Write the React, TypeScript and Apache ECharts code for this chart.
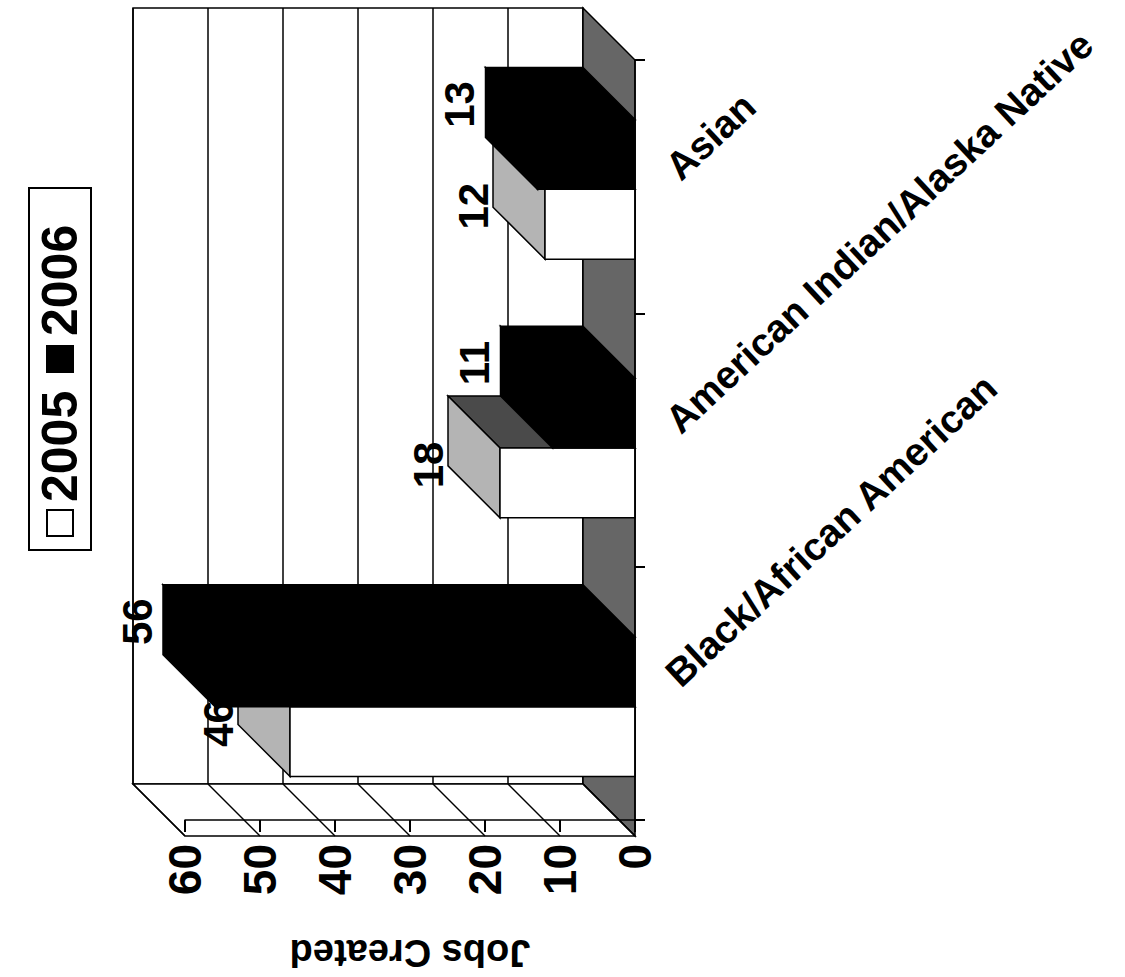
import React, { useEffect, useRef } from "react";
import * as echarts from "echarts";

const categories = ["Black/African American", "American Indian/Alaska Native", "Asian"];
const seriesNames = ["2005", "2006"];
const values2005 = [46, 18, 12];
const values2006 = [56, 11, 13];
const valueTicks = [0, 10, 20, 30, 40, 50, 60];
const axisTitle = "Jobs Created";

const FONT = "'Liberation Sans', Arial, Helvetica, sans-serif";
const DEPTH = 52;
const BACK = { left: 133, top: 8, width: 450, height: 776 };
const FRONT = { left: BACK.left + DEPTH, top: BACK.top + DEPTH, width: 450, height: 776 };
const VMAX = 60;
const BAR_FRAC = 0.27;

const add = (p: number[], d: number) => [p[0] + d, p[1] + d];

function wallsRender(params: any, api: any) {
  const c = (v: number, y: number) => api.coord([v, y]);
  const yTop = categories.length - 0.5;
  const yBot = -0.5;
  const children: any[] = [];
  const tl = c(VMAX, yTop);
  const br = c(0, yBot);
  children.push({
    type: "rect",
    shape: { x: tl[0], y: tl[1], width: br[0] - tl[0], height: br[1] - tl[1] },
    style: { fill: "#fff", stroke: "#000", lineWidth: 1.5 },
  });
  valueTicks.forEach((v) => {
    const a = c(v, yTop);
    const b = c(v, yBot);
    children.push({
      type: "line",
      shape: { x1: a[0], y1: a[1], x2: b[0], y2: b[1] },
      style: { stroke: "#000", lineWidth: 1.5 },
    });
  });
  const f1 = c(0, yTop);
  const f2 = c(0, yBot);
  children.push({
    type: "polygon",
    shape: { points: [f1, add(f1, DEPTH), add(f2, DEPTH), f2] },
    style: { fill: "#666666", stroke: "#000", lineWidth: 1.5 },
  });
  const s1 = c(VMAX, yBot);
  const s2 = c(0, yBot);
  children.push({
    type: "polygon",
    shape: { points: [s1, s2, add(s2, DEPTH), add(s1, DEPTH)] },
    style: { fill: "#fff", stroke: "#000", lineWidth: 1.5 },
  });
  valueTicks.forEach((v) => {
    const a = c(v, yBot);
    const b = add(a, DEPTH);
    children.push({
      type: "line",
      shape: { x1: a[0], y1: a[1], x2: b[0], y2: b[1] },
      style: { stroke: "#000", lineWidth: 1.5 },
    });
  });
  return { type: "group", children };
}

function makeBarRender(seriesIdx: number) {
  return function (params: any, api: any) {
    const v = api.value(0);
    const ci = api.value(1);
    const band = api.size([0, 1])[1];
    const w = band * BAR_FRAC;
    const center = api.coord([0, ci]);
    const x0 = center[0];
    const xv = api.coord([v, ci])[0];
    const yTop = seriesIdx === 0 ? center[1] : center[1] - w;
    const yBot = yTop + w;
    const d = DEPTH;
    const isWhite = seriesIdx === 0;
    const stroke = "#000";
    const lw = 1.5;
    const children: any[] = [
      {
        type: "polygon",
        shape: { points: [[xv, yTop], [x0, yTop], [x0 + d, yTop + d], [xv + d, yTop + d]] },
        style: { fill: isWhite ? "#4a4a4a" : "#000", stroke, lineWidth: lw },
      },
      {
        type: "polygon",
        shape: { points: [[xv, yTop], [xv + d, yTop + d], [xv + d, yBot + d], [xv, yBot]] },
        style: { fill: isWhite ? "#b4b4b4" : "#000", stroke, lineWidth: lw },
      },
      {
        type: "rect",
        shape: { x: xv + d, y: yTop + d, width: x0 - xv, height: w },
        style: { fill: isWhite ? "#fff" : "#000", stroke, lineWidth: lw },
      },
      {
        type: "text",
        x: isWhite ? xv - 20 : xv - 26,
        y: (yTop + yBot) / 2 + (isWhite ? 34 : 2),
        rotation: Math.PI / 2,
        style: {
          text: String(v),
          fontSize: 42,
          fontWeight: "bold",
          fontFamily: FONT,
          fill: "#000",
          align: "center",
          verticalAlign: "middle",
        },
      },
    ];
    return { type: "group", children };
  };
}

export default function App() {
  const ref = useRef<HTMLDivElement>(null);
  useEffect(() => {
    if (!ref.current) return;
    const chart = echarts.init(ref.current, undefined, { renderer: "svg" });
    const legendChildren: any[] = [
      { type: "rect", shape: { x: -180, y: -31, width: 362, height: 62 }, style: { fill: "#fff", stroke: "#000", lineWidth: 2 } },
      { type: "rect", shape: { x: -166, y: -13, width: 26, height: 26 }, style: { fill: "#fff", stroke: "#000", lineWidth: 2 } },
      { type: "text", x: -132, y: 0, style: { text: seriesNames[0], fontSize: 50, fontWeight: "bold", fontFamily: FONT, fill: "#000", align: "left", verticalAlign: "middle" } },
      { type: "rect", shape: { x: -2, y: -13, width: 26, height: 26 }, style: { fill: "#000", stroke: "#000", lineWidth: 2 } },
      { type: "text", x: 34, y: 0, style: { text: seriesNames[1], fontSize: 50, fontWeight: "bold", fontFamily: FONT, fill: "#000", align: "left", verticalAlign: "middle" } },
    ];
    chart.setOption({
      animation: false,
      backgroundColor: "#fff",
      grid: [
        { left: BACK.left, top: BACK.top, width: BACK.width, height: BACK.height },
        { left: FRONT.left, top: FRONT.top, width: FRONT.width, height: FRONT.height },
      ],
      xAxis: [
        {
          type: "value", gridIndex: 0, min: 0, max: VMAX, interval: 10, inverse: true,
          axisLine: { show: false }, axisTick: { show: false }, axisLabel: { show: false }, splitLine: { show: false },
        },
        {
          type: "value", gridIndex: 1, min: 0, max: VMAX, interval: 10, inverse: true, z: 10,
          axisLine: { show: true, lineStyle: { color: "#000", width: 1.5 } },
          axisTick: { show: true, length: 12, lineStyle: { color: "#000", width: 2 } },
          axisLabel: { rotate: 90, margin: 24, fontSize: 46, fontWeight: "bold", fontFamily: FONT, color: "#000" },
          splitLine: { show: false },
          name: axisTitle, nameLocation: "middle", nameGap: 114, nameRotate: 180,
          nameTextStyle: { fontSize: 38, fontWeight: "bold", fontFamily: FONT, color: "#000" },
        },
      ],
      yAxis: [
        {
          type: "value", gridIndex: 0, min: -0.5, max: categories.length - 0.5,
          axisLine: { show: false }, axisTick: { show: false }, axisLabel: { show: false }, splitLine: { show: false },
        },
        {
          type: "category", gridIndex: 1, data: categories, position: "right", z: 10,
          axisLine: { show: true, lineStyle: { color: "#000", width: 1.5 } },
          axisTick: { show: true, length: 10, lineStyle: { color: "#000", width: 2 } },
          axisLabel: {
            rotate: 43, margin: 50, fontSize: 39, fontWeight: "bold", fontFamily: FONT, color: "#000",
            verticalAlign: "bottom",
          },
        },
      ],
      graphic: [
        { type: "group", x: 60, y: 370, rotation: Math.PI / 2, children: legendChildren },
      ],
      series: [
        {
          type: "custom", name: "walls", xAxisIndex: 0, yAxisIndex: 0,
          data: [[0, 0]], encode: { x: 0, y: 1 }, renderItem: wallsRender, silent: true, z: 1,
        },
        {
          type: "custom", name: seriesNames[0], xAxisIndex: 0, yAxisIndex: 0, z: 2,
          data: values2005.map((v, i) => [v, i]), encode: { x: 0, y: 1 }, renderItem: makeBarRender(0),
        },
        {
          type: "custom", name: seriesNames[1], xAxisIndex: 0, yAxisIndex: 0, z: 3,
          data: values2006.map((v, i) => [v, i]), encode: { x: 0, y: 1 }, renderItem: makeBarRender(1),
        },
      ],
    });
    return () => chart.dispose();
  }, []);
  return (
    <div
      ref={ref}
      style={{ position: "absolute", left: 0, top: 0, width: 1125, height: 977, background: "#fff" }}
    />
  );
}
